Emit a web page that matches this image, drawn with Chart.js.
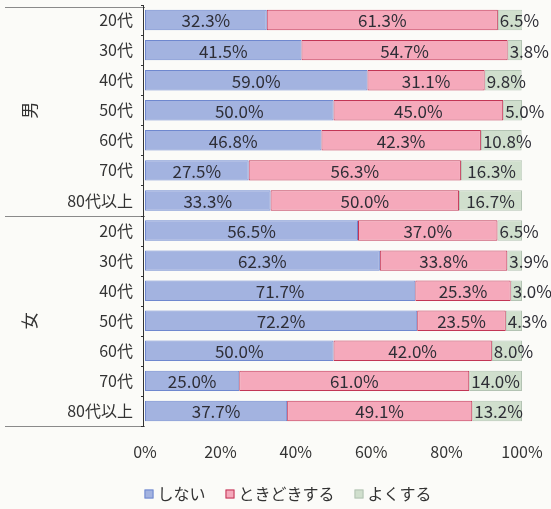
<!DOCTYPE html>
<html><head><meta charset="utf-8">
<script src="https://cdn.jsdelivr.net/npm/chart.js@4/dist/chart.umd.min.js"></script>
<style>html,body{margin:0;padding:0;background:#fbfbf8;}#wrap{width:551px;height:509px;position:relative;}</style>
</head><body><div id="wrap"><canvas id="c"></canvas></div>
<script>
const categories = ["20代","30代","40代","50代","60代","70代","80代以上","20代","30代","40代","50代","60代","70代","80代以上"];
const groups = ["男","女"];
const seriesNames = ["しない","ときどきする","よくする"];
const shinai = [32.3,41.5,59.0,50.0,46.8,27.5,33.3,56.5,62.3,71.7,72.2,50.0,25.0,37.7];
const tokidoki = [61.3,54.7,31.1,45.0,42.3,56.3,50.0,37.0,33.8,25.3,23.5,42.0,61.0,49.1];
const yoku = [6.5,3.8,9.8,5.0,10.8,16.3,16.7,6.5,3.9,3.0,4.3,8.0,14.0,13.2];
const xTicks = ["0%","20%","40%","60%","80%","100%"];

const FONT = "'Noto Sans CJK JP', 'Noto Sans', sans-serif";

const labelPlugin = {
  id: 'segLabels',
  afterDatasetsDraw(chart) {
    const ctx = chart.ctx;
    ctx.save();
    ctx.font = "17px " + FONT;
    ctx.fillStyle = "#2e2e36";
    ctx.textAlign = "center";
    ctx.textBaseline = "middle";
    chart.data.datasets.forEach((ds, di) => {
      const meta = chart.getDatasetMeta(di);
      meta.data.forEach((bar, i) => {
        const txt = ds.data[i].toFixed(1) + "%";
        const start = Math.min(bar.x, bar.base);
        let cx = (bar.x + bar.base) / 2;
        if (di === 2) cx = Math.max(cx, start + ctx.measureText(txt).width / 2 + 2);
        ctx.fillText(txt, cx, bar.y + 1);
      });
    });
    ctx.restore();
  }
};

const groupPlugin = {
  id: 'groups',
  afterDraw(chart) {
    const ctx = chart.ctx;
    const y = chart.scales.y;
    const area = chart.chartArea;
    const half = categories.length / 2;
    const step = (y.getPixelForValue(1) - y.getPixelForValue(0));
    const top = y.getPixelForValue(0) - step / 2;
    const mid = y.getPixelForValue(half) - step / 2;
    const bot = y.getPixelForValue(categories.length - 1) + step / 2;
    ctx.save();
    ctx.strokeStyle = "#8a8a8a";
    ctx.lineWidth = 1;
    [top + 2, mid, bot].forEach(py => {
      ctx.beginPath();
      ctx.moveTo(5, Math.round(py) + 0.5);
      ctx.lineTo(area.left, Math.round(py) + 0.5);
      ctx.stroke();
    });
    ctx.strokeStyle = "#333";
    ctx.beginPath();
    ctx.moveTo(area.left - 1.5, top);
    ctx.lineTo(area.left - 1.5, bot);
    ctx.stroke();
    for (let k = 0; k <= categories.length; k++) {
      const py = top + k * step;
      ctx.beginPath();
      ctx.moveTo(area.left - 4, Math.round(py) + 0.5);
      ctx.lineTo(area.left - 1, Math.round(py) + 0.5);
      ctx.stroke();
    }
    ctx.fillStyle = "#333";
    ctx.font = "17px " + FONT;
    ctx.textAlign = "center";
    ctx.textBaseline = "middle";
    [[groups[0], (top + mid) / 2], [groups[1], (mid + bot) / 2]].forEach(([t, py]) => {
      ctx.save();
      ctx.translate(30, py);
      ctx.rotate(-Math.PI / 2);
      ctx.fillText(t, 0, 0);
      ctx.restore();
    });

    // legend
    ctx.font = "16px " + FONT;
    ctx.textAlign = "left";
    const ds = chart.data.datasets;
    const box = 9, gapBox = 4, gapItem = 20;
    const widths = ds.map(d => box + gapBox + ctx.measureText(d.label).width);
    const total = widths.reduce((a, b) => a + b, 0) + gapItem * (ds.length - 1);
    let lx = 288 - total / 2;
    const ly = 494;
    ds.forEach((d, i) => {
      ctx.fillStyle = d.backgroundColor;
      ctx.strokeStyle = d.borderColor;
      ctx.fillRect(lx, ly - box / 2, box, box);
      ctx.strokeRect(lx + 0.5, ly - box / 2 + 0.5, box - 1, box - 1);
      ctx.fillStyle = "#333";
      ctx.fillText(d.label, lx + box + gapBox, ly);
      lx += widths[i] + gapItem;
    });
    ctx.restore();
  }
};

new Chart(document.getElementById('c'), {
  type: 'bar',
  data: {
    labels: categories,
    datasets: [
      { label: seriesNames[0], data: shinai, backgroundColor: '#a3b3e0', borderColor: '#6f88cf', borderWidth: 1, borderSkipped: false },
      { label: seriesNames[1], data: tokidoki, backgroundColor: '#f5a9bb', borderColor: '#c23555', borderWidth: 1, borderSkipped: false },
      { label: seriesNames[2], data: yoku, backgroundColor: '#d0dfcd', borderColor: '#b3c3b3', borderWidth: 1, borderSkipped: false }
    ]
  },
  options: {
    indexAxis: 'y',
    responsive: true,
    maintainAspectRatio: false,
    animation: false,
    devicePixelRatio: 1,
    layout: { padding: { top: 5, right: 29, left: 0, bottom: 0 } },
    datasets: { bar: { categoryPercentage: 1.0, barPercentage: 0.68 } },
    scales: {
      x: {
        stacked: true, min: 0, max: 100,
        grid: { display: false, drawTicks: false },
        border: { display: false },
        ticks: { stepSize: 20, padding: 16, color: '#333', font: { family: FONT, size: 16 },
          callback: (v, i) => xTicks[i] },
        afterFit: s => { s.height = 83; s.paddingLeft = 0; s.paddingRight = 0; }
      },
      y: {
        stacked: true,
        grid: { display: false, drawTicks: false },
        border: { display: false },
        ticks: { padding: 12, color: '#333', font: { family: FONT, size: 16 } },
        afterFit: s => { s.width = 145; s.paddingTop = 0; s.paddingBottom = 0; }
      }
    },
    plugins: {
      legend: { display: false },
      tooltip: { enabled: false }
    }
  },
  plugins: [labelPlugin, groupPlugin]
});
</script></body></html>
